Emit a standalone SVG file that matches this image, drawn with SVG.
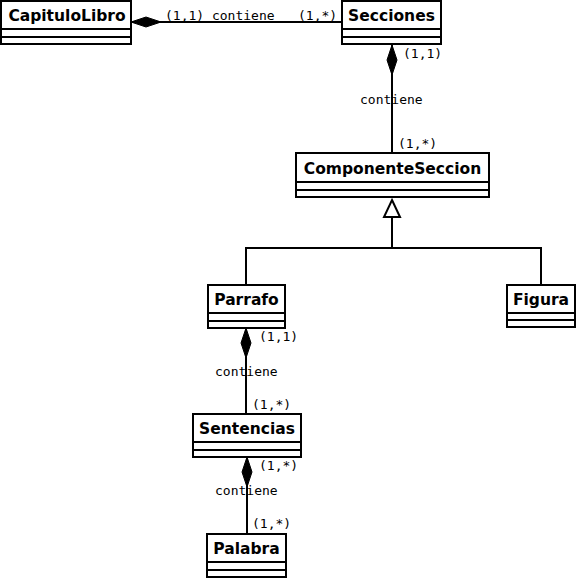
<svg xmlns="http://www.w3.org/2000/svg" width="576" height="579" viewBox="0 0 576 579">
<style>
.box{fill:#fff;stroke:#000;stroke-width:2}
.ln{stroke:#000;stroke-width:2;fill:none}
.t{font-family:"DejaVu Sans",sans-serif;font-weight:bold;font-size:15.5px;text-anchor:middle}
.m{font-family:"DejaVu Sans Mono",monospace;font-size:13px}
.dia{fill:#000;stroke:#000;stroke-width:1}
</style>
<rect width="576" height="579" fill="#fff"/>
<g id="connectors">
<line class="ln" x1="131" y1="22" x2="342" y2="22"/>
<polygon class="dia" points="131,22 146,17 161,22 146,27"/>
<text class="m" x="165" y="20">(1,1) contiene</text>
<text class="m" x="298" y="20">(1,*)</text>
<line class="ln" x1="392" y1="45" x2="392" y2="153"/>
<polygon class="dia" points="392,45 397,60 392,75 387,60"/>
<text class="m" x="403" y="58">(1,1)</text>
<text class="m" x="360" y="104">contiene</text>
<text class="m" x="398" y="148">(1,*)</text>
<polygon points="392,200 400,217 384,217" fill="#fff" stroke="#000" stroke-width="2"/>
<polyline class="ln" points="392,217 392,248 246,248 246,285"/>
<polyline class="ln" points="392,248 541,248 541,285"/>
<line class="ln" x1="246" y1="328" x2="246" y2="414"/>
<polygon class="dia" points="246,328 251,343 246,358 241,343"/>
<text class="m" x="259" y="341">(1,1)</text>
<text class="m" x="215" y="376">contiene</text>
<text class="m" x="252" y="409">(1,*)</text>
<line class="ln" x1="247" y1="457" x2="247" y2="534"/>
<polygon class="dia" points="247,457 252,472 247,487 242,472"/>
<text class="m" x="259" y="470">(1,*)</text>
<text class="m" x="215" y="495">contiene</text>
<text class="m" x="252" y="528">(1,*)</text>
</g>
<g id="CapituloLibro">
<rect class="box" x="1" y="1" width="130" height="43"/>
<line class="ln" x1="1" y1="29" x2="131" y2="29"/>
<line class="ln" x1="1" y1="37" x2="131" y2="37"/>
<text class="t" x="67" y="21">CapituloLibro</text>
</g>
<g id="Secciones">
<rect class="box" x="342" y="1" width="99" height="43"/>
<line class="ln" x1="342" y1="29" x2="441" y2="29"/>
<line class="ln" x1="342" y1="37" x2="441" y2="37"/>
<text class="t" x="391.5" y="21">Secciones</text>
</g>
<g id="ComponenteSeccion">
<rect class="box" x="296" y="153" width="193" height="44"/>
<line class="ln" x1="296" y1="182" x2="489" y2="182"/>
<line class="ln" x1="296" y1="190" x2="489" y2="190"/>
<text class="t" x="392.5" y="174">ComponenteSeccion</text>
</g>
<g id="Parrafo">
<rect class="box" x="208" y="285" width="77" height="43"/>
<line class="ln" x1="208" y1="313" x2="285" y2="313"/>
<line class="ln" x1="208" y1="321" x2="285" y2="321"/>
<text class="t" x="246.5" y="305">Parrafo</text>
</g>
<g id="Figura">
<rect class="box" x="507" y="285" width="68" height="42"/>
<line class="ln" x1="507" y1="313" x2="575" y2="313"/>
<line class="ln" x1="507" y1="320" x2="575" y2="320"/>
<text class="t" x="541" y="305">Figura</text>
</g>
<g id="Sentencias">
<rect class="box" x="193" y="414" width="108" height="43"/>
<line class="ln" x1="193" y1="442" x2="301" y2="442"/>
<line class="ln" x1="193" y1="450" x2="301" y2="450"/>
<text class="t" x="247" y="434">Sentencias</text>
</g>
<g id="Palabra">
<rect class="box" x="207" y="534" width="79" height="43"/>
<line class="ln" x1="207" y1="562" x2="286" y2="562"/>
<line class="ln" x1="207" y1="570" x2="286" y2="570"/>
<text class="t" x="246.5" y="554">Palabra</text>
</g>
</svg>
